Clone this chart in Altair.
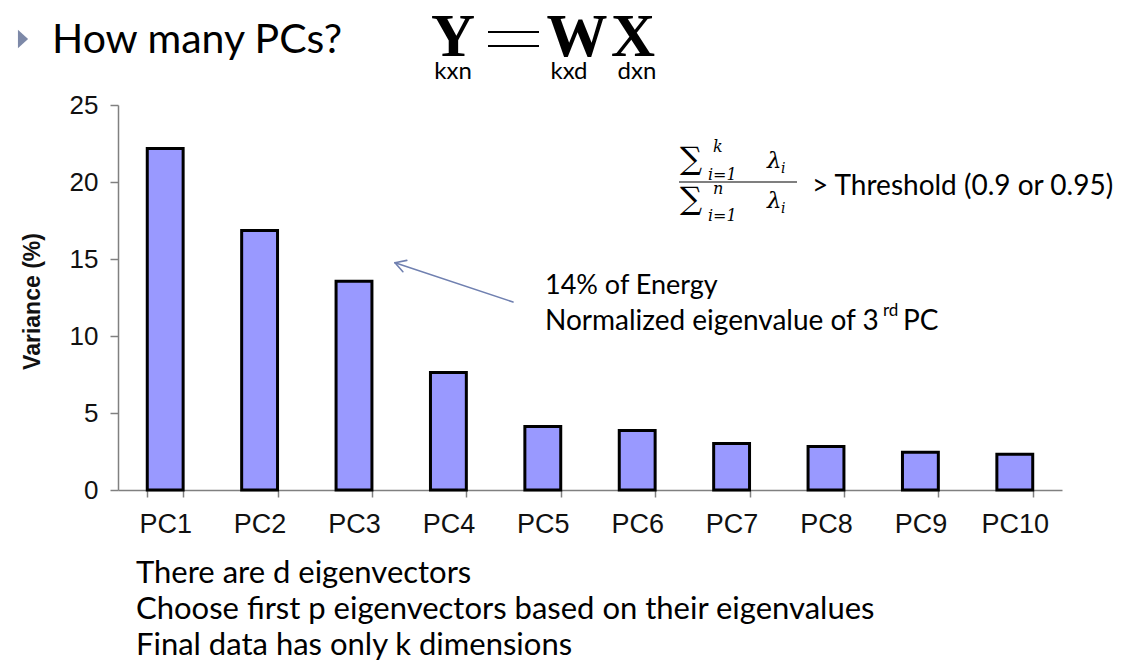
import altair as alt
import pandas as pd

# ---- data ----
components = ["PC1", "PC2", "PC3", "PC4", "PC5", "PC6", "PC7", "PC8", "PC9", "PC10"]
variance = [22.17, 16.85, 13.55, 7.63, 4.12, 3.87, 3.02, 2.83, 2.45, 2.32]
y_ticks = [0, 5, 10, 15, 20, 25]

df = pd.DataFrame({"pc": components, "var": variance})

# plot origin on the page
OX, OY = 118, 105
W, H = 944, 385
SANS = "Lato"
MATH = "Liberation Serif"


def label(text, px, py, size, font=SANS, weight="normal", align="left",
          baseline="alphabetic", color="#000000", style="normal"):
    return alt.Chart(alt.Data(values=[{}])).mark_text(
        text=text, font=font, fontSize=size, fontWeight=weight, align=align,
        baseline=baseline, color=color, fontStyle=style
    ).encode(x=alt.value(px - OX), y=alt.value(py - OY))


def seg(x1, y1, x2, y2, color="#7080b0", width=1.6, cap="round"):
    return alt.Chart(alt.Data(values=[{}])).mark_rule(
        color=color, strokeWidth=width, strokeCap=cap
    ).encode(x=alt.value(x1 - OX), y=alt.value(y1 - OY),
             x2=alt.value(x2 - OX), y2=alt.value(y2 - OY))


bars = alt.Chart(df).mark_bar(
    color="#9999ff", stroke="#000000", strokeWidth=3
).encode(
    x=alt.X("pc:N", sort=components,
            scale=alt.Scale(paddingInner=0.62, paddingOuter=0.31),
            axis=alt.Axis(title=None, labelAngle=0, labelFont="Liberation Sans",
                          labelFontSize=27, labelColor="#111111", labelPadding=14,
                          tickBand="extent", tickSize=7, tickColor="#808080",
                          domainColor="#808080", domainWidth=1.5, tickWidth=1.5)),
    y=alt.Y("var:Q", scale=alt.Scale(domain=[0, 25], nice=False),
            axis=alt.Axis(values=y_ticks, title="Variance (%)", grid=False,
                          labelFont="Liberation Sans", labelFontSize=26,
                          labelColor="#111111", labelPadding=12,
                          tickSize=8, tickColor="#808080", tickWidth=1.5,
                          domainColor="#808080", domainWidth=1.5,
                          titleFont="Liberation Sans", titleFontSize=23,
                          titleFontWeight="bold", titleColor="#111111",
                          titleAngle=270, titleX=32 - OX, titleY=301 - OY,
                          titleAlign="center", titleBaseline="middle")),
)

bullet = alt.Chart(alt.Data(values=[{}])).mark_point(
    shape="M-0.55,-1L0.55,0L-0.55,1Z", filled=True, size=340,
    color="#7d89a8", opacity=1
).encode(x=alt.value(23 - OX), y=alt.value(39 - OY))

layers = [bars, bullet,
          label("How many PCs?", 52, 53, 41),
          # Y = WX
          label("Y", 453, 56, 61, font=MATH, weight="bold", align="center"),
          seg(488, 32, 539, 32, color="#000000", width=2.2, cap="butt"),
          seg(488, 46, 539, 46, color="#000000", width=2.2, cap="butt"),
          label("W", 577, 56, 61, font=MATH, weight="bold", align="center"),
          label("X", 633, 56, 61, font=MATH, weight="bold", align="center"),
          label("kxn", 453, 79, 24, align="center"),
          label("kxd", 569, 79, 24, align="center"),
          label("dxn", 637, 79, 24, align="center"),
          # fraction
          label("∑", 680, 169, 31, font="DejaVu Serif"),
          label("k", 713, 152, 16, font="DejaVu Serif", style="italic"),
          label("i=1", 708, 180, 16, font="DejaVu Serif", style="italic"),
          label("λ", 767, 168, 23, font="DejaVu Serif", style="italic"),
          label("i", 781, 173, 14, font="DejaVu Serif", style="italic"),
          seg(679, 182, 797, 182, color="#000000", width=1.2, cap="butt"),
          label("∑", 680, 209, 31, font="DejaVu Serif"),
          label("n", 713, 194, 16, font="DejaVu Serif", style="italic"),
          label("i=1", 708, 221, 16, font="DejaVu Serif", style="italic"),
          label("λ", 767, 208, 23, font="DejaVu Serif", style="italic"),
          label("i", 781, 213, 14, font="DejaVu Serif", style="italic"),
          label("> Threshold (0.9 or 0.95)", 812, 195, 28),
          # arrow annotation
          seg(513, 302, 395, 262.7),
          seg(395, 262.7, 406.8, 260.4),
          seg(395, 262.7, 402.9, 271.7),
          label("14% of Energy", 545, 294, 27),
          label("Normalized eigenvalue of 3", 545, 330, 28),
          label("rd", 883, 316, 17),
          label("PC", 903, 330, 28),
          # bottom lines
          label("There are d eigenvectors", 136, 583, 31),
          label("Choose first p eigenvectors based on their eigenvalues", 136, 619, 31),
          label("Final data has only k dimensions", 136, 655, 31),
          ]

chart = alt.layer(*layers).properties(
    width=W, height=H,
    autosize=alt.AutoSizeParams(type="none"),
    padding={"left": OX - 8, "top": OY - 8, "right": 55, "bottom": 173},
    background="#ffffff",
).configure_view(stroke=None)

chart.save("out.html", embed_options={"renderer": "svg", "actions": False})
